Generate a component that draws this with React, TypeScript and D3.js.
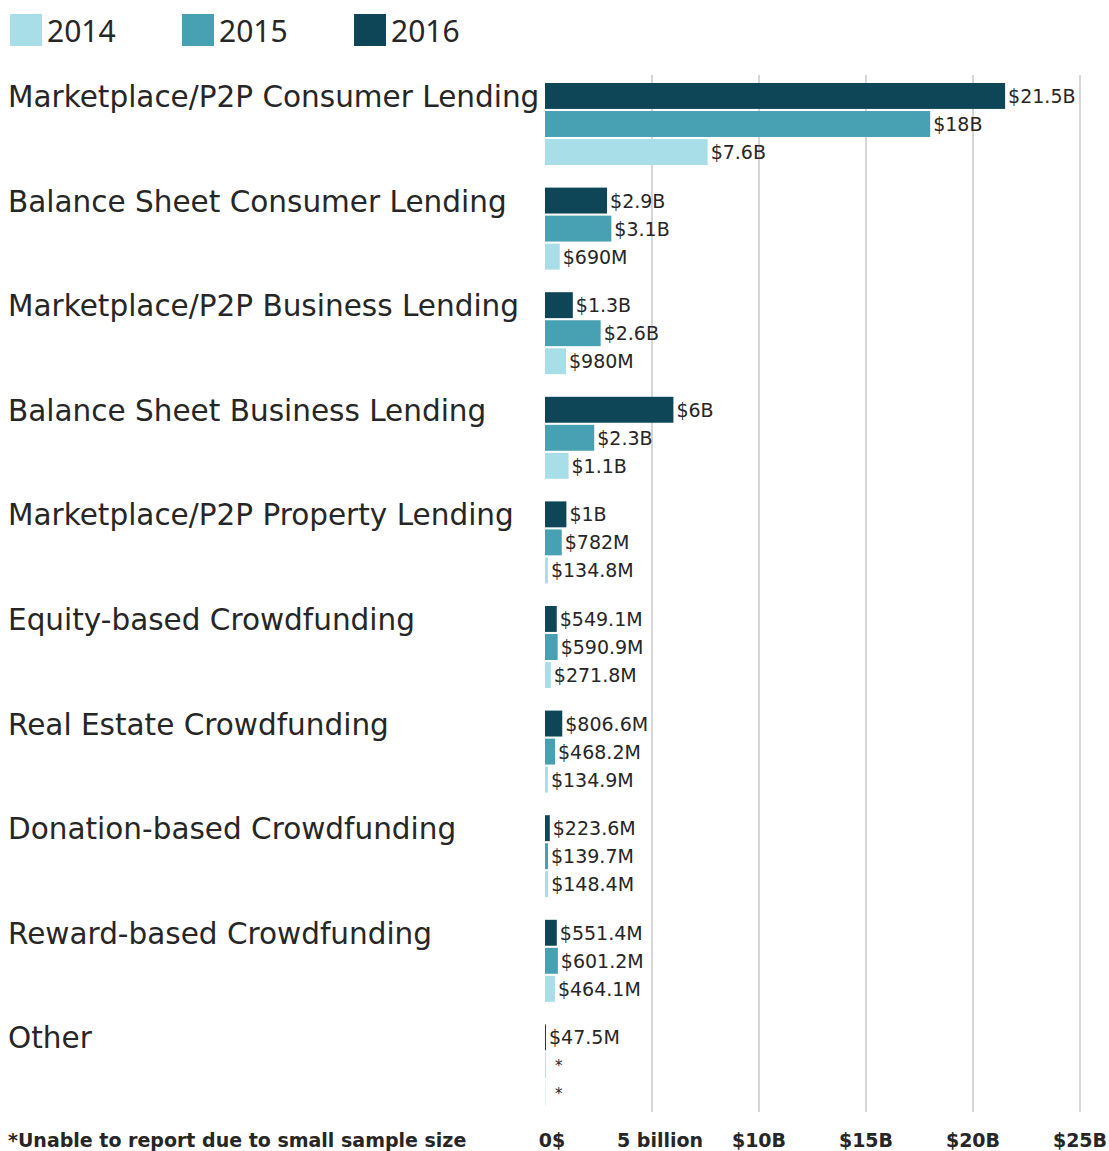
import React from "react";
import * as d3 from "d3";

const categories = [
  "Marketplace/P2P Consumer Lending",
  "Balance Sheet Consumer Lending",
  "Marketplace/P2P Business Lending",
  "Balance Sheet Business Lending",
  "Marketplace/P2P Property Lending",
  "Equity-based Crowdfunding",
  "Real Estate Crowdfunding",
  "Donation-based Crowdfunding",
  "Reward-based Crowdfunding",
  "Other",
];

const years = ["2016", "2015", "2014"];
const legendYears = ["2014", "2015", "2016"];

// values in billions of USD (null = not reported)
const values2016: (number | null)[] = [21.5, 2.9, 1.3, 6, 1, 0.5491, 0.8066, 0.2236, 0.5514, 0.0475];
const values2015: (number | null)[] = [18, 3.1, 2.6, 2.3, 0.782, 0.5909, 0.4682, 0.1397, 0.6012, null];
const values2014: (number | null)[] = [7.6, 0.69, 0.98, 1.1, 0.1348, 0.2718, 0.1349, 0.1484, 0.4641, null];

const labels2016 = ["$21.5B", "$2.9B", "$1.3B", "$6B", "$1B", "$549.1M", "$806.6M", "$223.6M", "$551.4M", "$47.5M"];
const labels2015 = ["$18B", "$3.1B", "$2.6B", "$2.3B", "$782M", "$590.9M", "$468.2M", "$139.7M", "$601.2M", "*"];
const labels2014 = ["$7.6B", "$690M", "$980M", "$1.1B", "$134.8M", "$271.8M", "$134.9M", "$148.4M", "$464.1M", "*"];

const tickValues = [0, 5, 10, 15, 20, 25];
const tickLabels = ["0$", "5 billion", "$10B", "$15B", "$20B", "$25B"];

const colors: Record<string, string> = { "2014": "#a8dee7", "2015": "#48a0b3", "2016": "#0f4657" };

const W = 1109;
const H = 1151;
const FONT = "'DejaVu Sans', sans-serif";
const FONT2 = "'Noto Sans', sans-serif";
const TEXT = "#262626";

export default function App() {
  const x = d3.scaleLinear().domain([0, 25]).range([545, 1080]);
  const groupY = d3.scaleBand<string>().domain(categories).range([83, 83 + 104.6 * categories.length]).paddingInner(0).paddingOuter(0);
  const barY = d3.scaleBand<string>().domain(years).range([0, 82]).paddingInner(0.075);

  const seriesVals: Record<string, (number | null)[]> = { "2016": values2016, "2015": values2015, "2014": values2014 };
  const seriesLabels: Record<string, string[]> = { "2016": labels2016, "2015": labels2015, "2014": labels2014 };

  return (
    <svg width={W} height={H} style={{ position: "absolute", left: 0, top: 0, background: "#fff" }} fontFamily={FONT}>
      {/* legend */}
      {legendYears.map((yr, i) => {
        const lx = 10 + i * 172;
        return (
          <g key={yr}>
            <rect x={lx} y={14} width={32} height={32} fill={colors[yr]} />
            <text x={lx + 37} y={42} fontSize={30} fill={TEXT} fontFamily={FONT2}>{yr}</text>
          </g>
        );
      })}

      {/* grid lines */}
      {tickValues.slice(1).map((t) => (
        <line key={t} x1={x(t)} x2={x(t)} y1={75} y2={1112} stroke="#c8c8c8" strokeWidth={1.5} />
      ))}

      {/* groups */}
      {categories.map((cat, ci) => {
        const gy = groupY(cat)!;
        return (
          <g key={cat} transform={`translate(0,${gy})`}>
            <text x={8} y={24} fontSize={29.5} fill={TEXT}>{cat}</text>
            {years.map((yr) => {
              const v = seriesVals[yr][ci];
              const by = barY(yr)!;
              const bh = barY.bandwidth();
              const xEnd = v == null ? x(0) + 1 : x(v);
              return (
                <g key={yr}>
                  {v == null ? (
                    <rect x={x(0)} y={by} width={1} height={bh} fill={colors[yr]} opacity={0.35} />
                  ) : (
                    <rect x={x(0)} y={by} width={Math.max(1, xEnd - x(0))} height={bh} fill={colors[yr]} />
                  )}
                  <text
                    x={xEnd + (v == null ? 9 : 3)}
                    y={by + bh / 2 + (v == null ? 6 : 7)}
                    fontSize={v == null ? 15 : 19}
                    fill={TEXT}
                  >
                    {seriesLabels[yr][ci]}
                  </text>
                </g>
              );
            })}
          </g>
        );
      })}

      {/* axis labels */}
      {tickValues.map((t, i) => (
        <text key={t} x={x(t) + (i === 0 ? 7 : i === 1 ? 8 : 0)} y={1147} fontSize={19} fontWeight="bold" textAnchor="middle" fill={TEXT}>
          {tickLabels[i]}
        </text>
      ))}

      <text x={8} y={1147} fontSize={19} fontWeight="bold" fill={TEXT}>*Unable to report due to small sample size</text>
    </svg>
  );
}
